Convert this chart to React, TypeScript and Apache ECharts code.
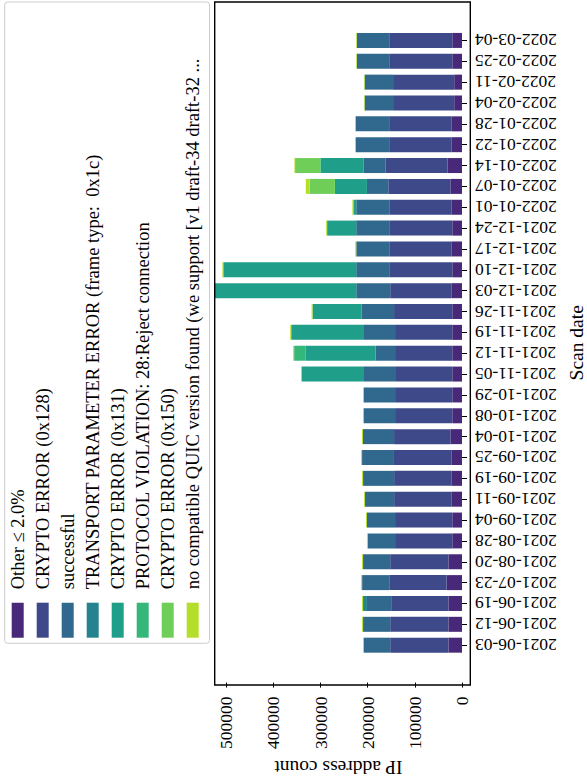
import React, { useEffect, useRef } from "react";
import * as echarts from "echarts";

const dates = [
  "2021-06-03", "2021-06-12", "2021-06-19", "2021-07-23", "2021-08-20", "2021-08-28",
  "2021-09-04", "2021-09-11", "2021-09-19", "2021-09-25", "2021-10-04", "2021-10-08",
  "2021-10-29", "2021-11-05", "2021-11-12", "2021-11-19", "2021-11-26", "2021-12-03",
  "2021-12-10", "2021-12-17", "2021-12-24", "2022-01-01", "2022-01-07", "2022-01-14",
  "2022-01-22", "2022-01-28", "2022-02-04", "2022-02-11", "2022-02-25", "2022-03-04",
];

const other = [
  28800, 28800, 28800, 32900, 28800, 20600, 20600, 22600, 22600, 22600, 24700, 20600,
  20600, 20600, 20600, 20600, 20600, 22600, 20600, 22600, 20600, 22600, 24700, 30900,
  22600, 22600, 16500, 16500, 20600, 20600,
];
const crypto128 = [
  123500, 123500, 121400, 121400, 123500, 121400, 121400, 121400, 121400, 123500, 119400, 121400,
  121400, 119400, 121400, 121400, 123500, 129700, 133800, 131700, 133800, 131700, 131700, 131700,
  130300, 130300, 129700, 129700, 132400, 132400,
];
const successful = [
  55600, 57600, 51500, 57600, 57600, 57600, 59700, 61700, 65900, 65900, 65900, 65900,
  65900, 67900, 41200, 65900, 68600, 72000, 70000, 70000, 70000, 70000, 45300, 46600,
  72000, 72000, 60400, 60400, 70000, 70000,
];
const transportParam = [
  0, 0, 8200, 0, 0, 0, 0, 0, 0, 0, 0, 0,
  0, 0, 0, 0, 0, 0, 0, 0, 0, 0, 0, 0,
  0, 0, 0, 0, 0, 0,
];
const crypto131 = [
  0, 0, 0, 0, 0, 0, 0, 0, 0, 0, 0, 0,
  0, 131700, 148200, 154400, 104300, 305000, 281900, 0, 61700, 6200, 67900, 89900,
  0, 0, 0, 0, 0, 0,
];
const protocolViolation = [
  0, 0, 0, 0, 0, 0, 0, 0, 0, 0, 0, 0,
  0, 0, 24700, 0, 0, 0, 0, 0, 0, 0, 0, 1500,
  0, 0, 0, 0, 0, 0,
];
const crypto150 = [
  0, 0, 0, 0, 0, 0, 0, 0, 0, 0, 0, 0,
  0, 0, 0, 0, 0, 0, 0, 0, 0, 0, 53500, 53500,
  0, 0, 0, 0, 0, 0,
];
const noCompatible = [
  2000, 2000, 2000, 2000, 2000, 2000, 2000, 2000, 2000, 2000, 2000, 2000,
  2000, 2000, 2000, 2000, 2000, 2000, 2000, 2000, 2000, 2000, 8200, 1400,
  2000, 2000, 1400, 1400, 1400, 1400,
];

const seriesNames = [
  "Other \u2264 2.0%",
  "CRYPTO ERROR (0x128)",
  "successful",
  "TRANSPORT PARAMETER ERROR (frame type:  0x1c)",
  "CRYPTO ERROR (0x131)",
  "PROTOCOL VIOLATION: 28:Reject connection",
  "CRYPTO ERROR (0x150)",
  "no compatible QUIC version found (we support [v1 draft-34 draft-32 ...",
];
const seriesData = [other, crypto128, successful, transportParam, crypto131, protocolViolation, crypto150, noCompatible];
const colors = ["#482878", "#3e4989", "#31688e", "#26828e", "#1f9e89", "#35b779", "#6ece58", "#b5de2b"];
const valueTicks = [0, 100000, 200000, 300000, 400000, 500000];

const FONT = "'Liberation Serif', 'DejaVu Serif', serif";

export default function App() {
  const ref = useRef<HTMLDivElement>(null);
  useEffect(() => {
    if (!ref.current) return;
    const chart = echarts.init(ref.current, undefined, { renderer: "svg" });
    const gridLeft = 214.7;
    const gridRight = 470.3;
    const frameTop = 2;
    const frameBottom = 685;
    const legendGraphics: any[] = [];
    seriesNames.forEach((name, i) => {
      const cx = 17.7 + 25 * i;
      legendGraphics.push({
        type: "rect",
        shape: { x: cx - 6, y: 602.7, width: 12, height: 35 },
        style: { fill: colors[i] },
        z: 101,
      });
      legendGraphics.push({
        type: "text",
        x: cx,
        y: 589.3,
        rotation: Math.PI / 2,
        style: {
          text: name,
          fill: "#000",
          fontSize: 18.5,
          fontFamily: FONT,
          align: "left",
          verticalAlign: "middle",
        },
        z: 101,
      });
    });
    chart.setOption({
      animation: false,
      backgroundColor: "#fff",
      grid: { left: gridLeft, right: 587 - gridRight, top: 30, bottom: 782 - 658, containLabel: false },
      xAxis: {
        type: "value",
        inverse: true,
        min: 0,
        max: 524600,
        position: "bottom",
        offset: frameBottom - 658,
        axisLine: { show: false },
        splitLine: { show: false },
        axisTick: { show: true, length: 5, lineStyle: { color: "#000", width: 1 }, customValues: valueTicks },
        axisLabel: {
          rotate: 90,
          fontSize: 17.5,
          fontFamily: FONT,
          color: "#000",
          margin: 14,
          customValues: valueTicks,
          formatter: (v: number) => String(v),
        },
        name: "IP address count",
        nameLocation: "middle",
        nameRotate: 180,
        nameGap: 74,
        nameTextStyle: { fontSize: 19.5, fontFamily: FONT, color: "#000" },
      },
      yAxis: {
        type: "category",
        data: dates,
        position: "right",
        axisLine: { show: false },
        splitLine: { show: false },
        axisTick: { show: true, alignWithLabel: true, length: 5, lineStyle: { color: "#000", width: 1 } },
        axisLabel: {
          rotate: 180,
          fontSize: 17.5,
          fontFamily: FONT,
          color: "#000",
          margin: 13,
          interval: 0,
        },
        name: "Scan date",
        nameLocation: "middle",
        nameRotate: 90,
        nameGap: 104,
        nameTextStyle: { fontSize: 19.5, fontFamily: FONT, color: "#000" },
      },
      series: seriesNames.map((name, i) => ({
        name,
        type: "bar",
        stack: "total",
        data: seriesData[i],
        barWidth: 15,
        clip: true,
        itemStyle: { color: colors[i] },
      })),
      graphic: [
        {
          type: "rect",
          shape: { x: gridLeft, y: frameTop, width: gridRight - gridLeft, height: frameBottom - frameTop },
          style: { fill: "none", stroke: "#000", lineWidth: 1.4 },
          z: 100,
        },
        {
          type: "rect",
          shape: { x: 4.7, y: 2, width: 204.8, height: 641.3, r: 3 },
          style: { fill: "rgba(255,255,255,0.8)", stroke: "#cccccc", lineWidth: 1 },
          z: 100,
        },
        ...legendGraphics,
      ],
    });
    return () => chart.dispose();
  }, []);
  return (
    <div
      ref={ref}
      style={{ position: "absolute", left: 0, top: 0, width: 587, height: 782 }}
    />
  );
}
